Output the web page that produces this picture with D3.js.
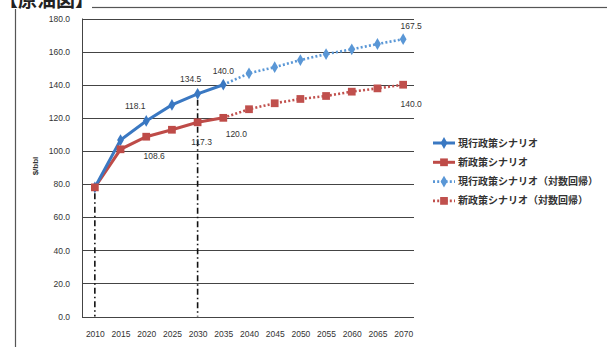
<!DOCTYPE html>
<html lang="ja">
<head>
<meta charset="utf-8">
<script src="https://cdn.jsdelivr.net/npm/d3@7"></script>
<style>
  html, body { margin: 0; padding: 0; background: #fff; }
  svg { display: block; font-family: "Noto Sans CJK JP", "Noto Sans", sans-serif; }
</style>
</head>
<body>
<svg id="chart" width="607" height="347"></svg>
<script>
// Years on the horizontal axis
const years = [2010, 2015, 2020, 2025, 2030, 2035, 2040, 2045, 2050, 2055, 2060, 2065, 2070];
// Y axis ticks
const yTicks = [0, 20, 40, 60, 80, 100, 120, 140, 160, 180];

// 現行政策シナリオ (2010–2035)
const currentYears = [2010, 2015, 2020, 2025, 2030, 2035];
const currentValues = [78.0, 106.6, 118.1, 127.8, 134.5, 140.0];
// 新政策シナリオ (2010–2035)
const newYears = [2010, 2015, 2020, 2025, 2030, 2035];
const newValues = [78.0, 101.0, 108.6, 112.8, 117.3, 120.0];
// 対数回帰 extensions (2035–2070)
const currentLogYears = [2035, 2040, 2045, 2050, 2055, 2060, 2065, 2070];
const currentLogValues = [140.0, 146.9, 150.6, 154.9, 158.5, 161.4, 164.6, 167.5];
const newLogYears = [2035, 2040, 2045, 2050, 2055, 2060, 2065, 2070];
const newLogValues = [120.0, 125.2, 128.8, 131.4, 133.2, 135.8, 137.8, 140.0];

// Value labels: [series, year, value, dx, dy]
const labelSeries = ["current", "current", "current", "currentLog", "new", "new", "new", "newLog"];
const labelYears = [2020, 2030, 2035, 2070, 2020, 2030, 2035, 2070];
const labelValues = [118.1, 134.5, 140.0, 167.5, 108.6, 117.3, 120.0, 140.0];

const legendNames = ["現行政策シナリオ", "新政策シナリオ", "現行政策シナリオ（対数回帰）", "新政策シナリオ（対数回帰）"];

const svg = d3.select("#chart");

// Outer frame and clipped caption
svg.append("rect").attr("x", 15.5).attr("y", 7.5).attr("width", 600).attr("height", 360)
  .attr("fill", "none").attr("stroke", "#555").attr("stroke-width", 1.2);
svg.append("rect").attr("x", 0).attr("y", 0).attr("width", 92).attr("height", 9).attr("fill", "#fff");
svg.append("text").attr("x", -1).attr("y", 7).attr("font-size", 19).attr("font-weight", 700)
  .attr("fill", "#222").text("【原油図】");

const x = d3.scalePoint().domain(years).range([82, 416]).padding(0.5);
const y = d3.scaleLinear().domain([0, 180]).range([316.5, 18.5]);

// Gridlines
svg.append("g").selectAll("line").data(yTicks).join("line")
  .attr("x1", 82).attr("x2", 414)
  .attr("y1", d => Math.round(y(d)) + 0.5).attr("y2", d => Math.round(y(d)) + 0.5)
  .attr("stroke", "#444").attr("stroke-width", 1);

// Left axis line
svg.append("line").attr("x1", 82.5).attr("x2", 82.5).attr("y1", y(180)).attr("y2", y(0) + 0.5)
  .attr("stroke", "#444").attr("stroke-width", 1);

// Y axis labels
const yAxis = d3.axisLeft(y).tickValues(yTicks).tickFormat(d3.format(".1f")).tickSize(0).tickPadding(12);
const gy = svg.append("g").attr("transform", "translate(82,0)").call(yAxis);
gy.select(".domain").remove();
gy.selectAll("text").attr("font-size", 8.5).attr("fill", "#333").attr("font-family", "Liberation Sans, sans-serif");

// X axis labels
const xAxis = d3.axisBottom(x).tickSize(0).tickPadding(14);
const gx = svg.append("g").attr("transform", `translate(0,${y(0)})`).call(xAxis);
gx.select(".domain").remove();
gx.selectAll("text").attr("font-size", 8.5).attr("fill", "#333").attr("font-family", "Liberation Sans, sans-serif");

// Y axis title
svg.append("text").attr("transform", "translate(38,166) rotate(-90)")
  .attr("text-anchor", "middle").attr("font-size", 8).attr("font-weight", 700).attr("fill", "#333")
  .attr("font-family", "Liberation Sans, sans-serif").text("$/bbl");

// Dash-dot reference lines at 2010 and 2030
[[2010, 78.0], [2030, 134.5]].forEach(([yr, v]) => {
  svg.append("line").attr("x1", x(yr)).attr("x2", x(yr)).attr("y1", y(v) + 6).attr("y2", y(0))
    .attr("stroke", "#111").attr("stroke-width", 1.6).attr("stroke-dasharray", "6,3,1.5,3");
});

const blue = "#3a78c2", red = "#be4b48";
const blueLight = "#5a97d6", redLight = "#c0504d";
const line = d3.line().x(d => x(d[0])).y(d => y(d[1]));
const zip = (a, b) => a.map((v, i) => [v, b[i]]);

// Dotted extensions first so the solid lines sit on top
svg.append("path").datum(zip(currentLogYears, currentLogValues)).attr("d", line)
  .attr("fill", "none").attr("stroke", blueLight).attr("stroke-width", 2.6).attr("stroke-dasharray", "2,2.2");
svg.append("path").datum(zip(newLogYears, newLogValues)).attr("d", line)
  .attr("fill", "none").attr("stroke", redLight).attr("stroke-width", 2.6).attr("stroke-dasharray", "2,2.2");

svg.append("path").datum(zip(newYears, newValues)).attr("d", line)
  .attr("fill", "none").attr("stroke", red).attr("stroke-width", 3);
svg.append("path").datum(zip(currentYears, currentValues)).attr("d", line)
  .attr("fill", "none").attr("stroke", blue).attr("stroke-width", 3);

const diamond = d3.symbol().type(d3.symbolDiamond).size(40);
const square = d3.symbol().type(d3.symbolSquare).size(60);

svg.append("g").selectAll("path").data(zip(currentLogYears.slice(1), currentLogValues.slice(1))).join("path")
  .attr("d", diamond).attr("transform", d => `translate(${x(d[0])},${y(d[1])})`).attr("fill", blueLight);
svg.append("g").selectAll("path").data(zip(newLogYears.slice(1), newLogValues.slice(1))).join("path")
  .attr("d", square).attr("transform", d => `translate(${x(d[0])},${y(d[1])})`).attr("fill", redLight);
svg.append("g").selectAll("path").data(zip(currentYears, currentValues)).join("path")
  .attr("d", diamond).attr("transform", d => `translate(${x(d[0])},${y(d[1])})`).attr("fill", blue);
svg.append("g").selectAll("path").data(zip(newYears, newValues)).join("path")
  .attr("d", square).attr("transform", d => `translate(${x(d[0])},${y(d[1])})`).attr("fill", red);

// Data labels
const labelOffsets = { // placement relative to the marker
  "current-2020": [-11, -12], "current-2030": [-7, -12], "current-2035": [0, -11],
  "currentLog-2070": [8, -10], "new-2020": [8, 22], "new-2030": [4, 23],
  "new-2035": [13, 19], "newLog-2070": [8, 22]
};
svg.append("g").selectAll("text").data(labelYears.map((yr, i) => ({ s: labelSeries[i], yr, v: labelValues[i] })))
  .join("text")
  .attr("x", d => x(d.yr) + labelOffsets[`${d.s}-${d.yr}`][0])
  .attr("y", d => y(d.v) + labelOffsets[`${d.s}-${d.yr}`][1])
  .attr("text-anchor", "middle").attr("font-size", 8.5).attr("fill", "#333")
  .attr("font-family", "Liberation Sans, sans-serif")
  .text(d => d3.format(".1f")(d.v));

// Legend
const legendColors = [blue, red, blueLight, redLight];
const legendDashed = [false, false, true, true];
const legendSymbols = [diamond, square, diamond, square];
const lg = svg.append("g").selectAll("g").data(legendNames).join("g")
  .attr("transform", (d, i) => `translate(433,${143 + i * 19.3})`);
lg.append("line").attr("x1", 0).attr("x2", 22).attr("y1", 0).attr("y2", 0)
  .attr("stroke", (d, i) => legendColors[i]).attr("stroke-width", (d, i) => legendDashed[i] ? 2.6 : 3)
  .attr("stroke-dasharray", (d, i) => legendDashed[i] ? "2,2.2" : null);
lg.append("path").attr("d", (d, i) => legendSymbols[i]()).attr("transform", "translate(11,0)")
  .attr("fill", (d, i) => legendColors[i]);
lg.append("text").attr("x", 25).attr("y", 3.5).attr("font-size", 10).attr("font-weight", 700)
  .attr("fill", "#333").text(d => d);
</script>
</body>
</html>
